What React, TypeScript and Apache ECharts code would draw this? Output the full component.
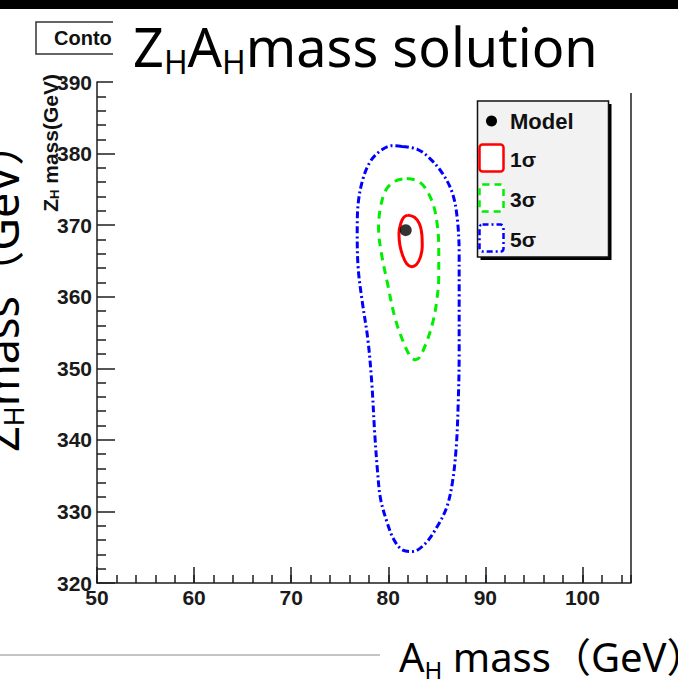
import React, { useEffect, useRef } from 'react';
import * as echarts from 'echarts';

// Axis ranges
const xMin = 50;
const xMax = 105;
const yMin = 320;
const yMax = 390;

// Model point (A_H mass, Z_H mass)
const modelPoint = [81.8, 369.3];

// 1 sigma contour
const sigma1X = [82.0, 82.7, 83.2, 83.45, 83.5, 83.3, 82.9, 82.4, 81.9, 81.5, 81.2, 81.1, 81.3, 81.6, 82.0];
const sigma1Y = [371.4, 371.1, 370.2, 368.8, 367.0, 365.5, 364.5, 364.2, 364.6, 365.7, 367.2, 368.8, 370.3, 371.1, 371.4];

// 3 sigma contour
const sigma3X = [81.9, 83.0, 83.8, 84.6, 85.0, 85.2, 85.2, 85.0, 84.6, 83.9, 83.2, 82.8, 82.3, 81.6, 80.7, 79.9, 79.3, 79.0, 79.2, 79.8, 80.8, 81.9];
const sigma3Y = [376.5, 376.2, 375.2, 373.0, 370.5, 367.0, 363.0, 359.5, 356.5, 353.5, 351.5, 351.2, 351.6, 353.5, 357.0, 362.0, 366.0, 369.5, 372.5, 375.0, 376.2, 376.5];

// 5 sigma contour
const sigma5X = [81.4, 83.0, 84.3, 85.6, 86.6, 87.1, 87.3, 87.3, 87.3, 87.2, 87.0, 86.6, 86.0, 85.0, 83.8, 82.5, 81.5, 80.6, 79.8, 79.2, 78.9, 78.6, 78.3, 77.9, 77.3, 76.9, 76.8, 76.9, 77.4, 78.2, 79.3, 80.4, 81.4];
const sigma5Y = [381.0, 380.6, 379.3, 377.2, 374.5, 371.0, 366.0, 360.0, 352.0, 345.0, 339.0, 334.0, 330.5, 327.8, 325.5, 324.4, 324.6, 326.0, 328.8, 331.8, 335.5, 341.0, 348.0, 354.0, 359.5, 364.0, 369.0, 373.0, 376.5, 379.0, 380.5, 381.1, 381.0];

const legendLabels = ['Model', '1σ', '3σ', '5σ'];

const zip = (xs: number[], ys: number[]) => xs.map((x, i) => [x, ys[i]]);

const AXIS_COLOR = '#1e1e1e';
const ROOT_FONT = 'Liberation Sans, Arial, Helvetica, sans-serif';
const SLIDE_FONT = 'Noto Sans, Noto Sans CJK SC, sans-serif';

export default function App() {
  const ref = useRef<HTMLDivElement>(null);

  useEffect(() => {
    if (!ref.current) return;
    const chart = echarts.init(ref.current, undefined, { renderer: 'svg' });

    const tickLabel = {
      fontSize: 21,
      fontWeight: 'bold' as const,
      fontFamily: ROOT_FONT,
      color: '#1a1a1a',
    };

    const option: any = {
      animation: false,
      backgroundColor: '#ffffff',
      grid: { left: 97, right: 47, top: 82, bottom: 105, containLabel: false, outerBoundsMode: 'none' },
      xAxis: [
        {
          type: 'value',
          min: xMin,
          max: xMax,
          interval: 10,
          axisLine: { show: true, lineStyle: { color: AXIS_COLOR, width: 1.5 } },
          axisTick: { show: true, inside: true, length: 16, lineStyle: { color: AXIS_COLOR, width: 1.5 } },
          axisLabel: { ...tickLabel, margin: 4, showMaxLabel: false },
          splitLine: { show: false },
        },
        {
          type: 'value',
          min: xMin,
          max: xMax,
          interval: 2,
          position: 'bottom',
          axisLine: { show: false },
          axisTick: { show: true, inside: true, length: 8, lineStyle: { color: AXIS_COLOR, width: 1.5 } },
          axisLabel: { show: false },
          splitLine: { show: false },
        },
      ],
      yAxis: {
        type: 'value',
        min: yMin,
        max: yMax,
        interval: 10,
        axisLine: { show: true, lineStyle: { color: AXIS_COLOR, width: 1.5 } },
        axisTick: { show: true, inside: true, length: 18, lineStyle: { color: AXIS_COLOR, width: 1.5 } },
        minorTick: { show: true, splitNumber: 5, length: 9, lineStyle: { color: AXIS_COLOR, width: 1.5 } },
        axisLabel: { ...tickLabel, margin: 5 },
        splitLine: { show: false },
      },
      series: [
        {
          name: legendLabels[3],
          type: 'line',
          xAxisIndex: 0,
          data: zip(sigma5X, sigma5Y),
          symbol: 'none',
          smooth: 0.35,
          silent: true,
          lineStyle: { color: '#0000ff', width: 3, type: [7, 3, 2, 3] },
          itemStyle: { color: '#0000ff' },
          z: 2,
        },
        {
          name: legendLabels[2],
          type: 'line',
          xAxisIndex: 0,
          data: zip(sigma3X, sigma3Y),
          symbol: 'none',
          smooth: 0.35,
          silent: true,
          lineStyle: { color: '#00ee00', width: 3, type: [8, 6] },
          itemStyle: { color: '#00ee00' },
          z: 3,
        },
        {
          name: legendLabels[1],
          type: 'line',
          xAxisIndex: 0,
          data: zip(sigma1X, sigma1Y),
          symbol: 'none',
          smooth: 0.35,
          silent: true,
          lineStyle: { color: '#ff0000', width: 3 },
          itemStyle: { color: '#ff0000' },
          z: 4,
        },
        {
          name: legendLabels[0],
          type: 'scatter',
          xAxisIndex: 0,
          data: [modelPoint],
          symbol: 'circle',
          symbolSize: 12,
          silent: true,
          itemStyle: { color: '#000000' },
          z: 5,
        },
      ],
      graphic: [
        // top black bar
        { type: 'rect', z: 100, shape: { x: 0, y: 0, width: 678, height: 9 }, style: { fill: '#000' } },
        // ROOT "Contours" title box (partially hidden)
        { type: 'rect', z: 100, shape: { x: 36, y: 22, width: 100, height: 32 }, style: { fill: '#fff', stroke: '#333', lineWidth: 1.5 } },
        { type: 'text', z: 100, x: 54, y: 38, style: { text: 'Conto', fontSize: 20, fontWeight: 'bold', fontFamily: ROOT_FONT, fill: '#111', align: 'left', verticalAlign: 'middle' } },
        // white overlay behind slide title
        { type: 'rect', z: 101, shape: { x: 113, y: 9, width: 565, height: 83 }, style: { fill: '#fff' } },
        // slide title
        {
          type: 'text', z: 102, x: 133, y: 14,
          style: {
            text: '{b|Z}{s|H}{b|A}{s|H}{b|mass solution}',
            align: 'left', verticalAlign: 'top',
            fill: '#000',
            rich: {
              b: { fontSize: 54, fontFamily: SLIDE_FONT, lineHeight: 64, fill: '#000' },
              s: { fontSize: 32, fontFamily: SLIDE_FONT, lineHeight: 12, verticalAlign: 'bottom', fill: '#000' },
            },
          },
        },
        // small ROOT y axis title
        {
          type: 'text', z: 90, x: 50, y: 74, rotation: Math.PI / 2,
          style: {
            text: '{b|Z}{s|H}{b| mass(GeV)}',
            align: 'right', verticalAlign: 'middle',
            fill: '#111',
            rich: {
              b: { fontSize: 21, fontWeight: 'bold', fontFamily: ROOT_FONT, lineHeight: 22, fill: '#111' },
              s: { fontSize: 13, fontWeight: 'bold', fontFamily: ROOT_FONT, lineHeight: 6, verticalAlign: 'bottom', fill: '#111' },
            },
          },
        },
        // big slide y title (cut at left edge)
        {
          type: 'text', z: 102, x: -25, y: 452, rotation: Math.PI / 2,
          style: {
            text: '{b|Z}{s|H}{b|mass（GeV）}',
            align: 'left', verticalAlign: 'top',
            fill: '#000',
            rich: {
              b: { fontSize: 45, fontFamily: SLIDE_FONT, lineHeight: 52, fill: '#000' },
              s: { fontSize: 27, fontFamily: SLIDE_FONT, lineHeight: 10, verticalAlign: 'bottom', fill: '#000' },
            },
          },
        },
        // right frame line
        { type: 'line', z: 50, shape: { x1: 631, y1: 93, x2: 631, y2: 583 }, style: { stroke: AXIS_COLOR, lineWidth: 1.5 } },
        // slide separator line
        { type: 'line', z: 102, shape: { x1: 0, y1: 655, x2: 380, y2: 655 }, style: { stroke: '#c4c4c4', lineWidth: 2 } },
        // bottom slide x title
        {
          type: 'text', z: 102, x: 399, y: 631,
          style: {
            text: '{b|A}{s|H}{b| mass（GeV）}',
            align: 'left', verticalAlign: 'top',
            fill: '#000',
            rich: {
              b: { fontSize: 40, fontFamily: SLIDE_FONT, lineHeight: 50, fill: '#000' },
              s: { fontSize: 24, fontFamily: SLIDE_FONT, lineHeight: 10, verticalAlign: 'bottom', fill: '#000' },
            },
          },
        },
        // legend
        { type: 'rect', z: 110, shape: { x: 480.5, y: 104, width: 131, height: 156 }, style: { fill: '#000' } },
        { type: 'rect', z: 111, shape: { x: 477.5, y: 101, width: 131, height: 156 }, style: { fill: '#f2f2f2', stroke: '#111', lineWidth: 1.5 } },
        { type: 'circle', z: 112, shape: { cx: 491.5, cy: 121, r: 5.5 }, style: { fill: '#000' } },
        { type: 'text', z: 112, x: 510, y: 121, style: { text: legendLabels[0], fontSize: 22, fontWeight: 'bold', fontFamily: ROOT_FONT, fill: '#111', verticalAlign: 'middle' } },
        { type: 'rect', z: 112, shape: { x: 479.5, y: 144.5, width: 24, height: 27, r: 3 }, style: { fill: '#fff', stroke: '#ff0000', lineWidth: 2.5 } },
        { type: 'text', z: 112, x: 510, y: 159, style: { text: legendLabels[1], fontSize: 21, fontWeight: 'bold', fontFamily: ROOT_FONT, fill: '#111', verticalAlign: 'middle' } },
        { type: 'rect', z: 112, shape: { x: 479.5, y: 184.5, width: 24, height: 27, r: 3 }, style: { fill: '#fff', stroke: '#00ee00', lineWidth: 2.5, lineDash: [7, 5] } },
        { type: 'text', z: 112, x: 510, y: 199, style: { text: legendLabels[2], fontSize: 21, fontWeight: 'bold', fontFamily: ROOT_FONT, fill: '#111', verticalAlign: 'middle' } },
        { type: 'rect', z: 112, shape: { x: 479.5, y: 224.5, width: 24, height: 27, r: 3 }, style: { fill: '#fff', stroke: '#0000ff', lineWidth: 2.5, lineDash: [6, 3, 2, 3] } },
        { type: 'text', z: 112, x: 510, y: 239, style: { text: legendLabels[3], fontSize: 21, fontWeight: 'bold', fontFamily: ROOT_FONT, fill: '#111', verticalAlign: 'middle' } },
      ],
    };

    chart.setOption(option);
    return () => chart.dispose();
  }, []);

  return (
    <div
      ref={ref}
      style={{ position: 'fixed', left: 0, top: 0, width: 678, height: 688, background: '#fff' }}
    />
  );
}
